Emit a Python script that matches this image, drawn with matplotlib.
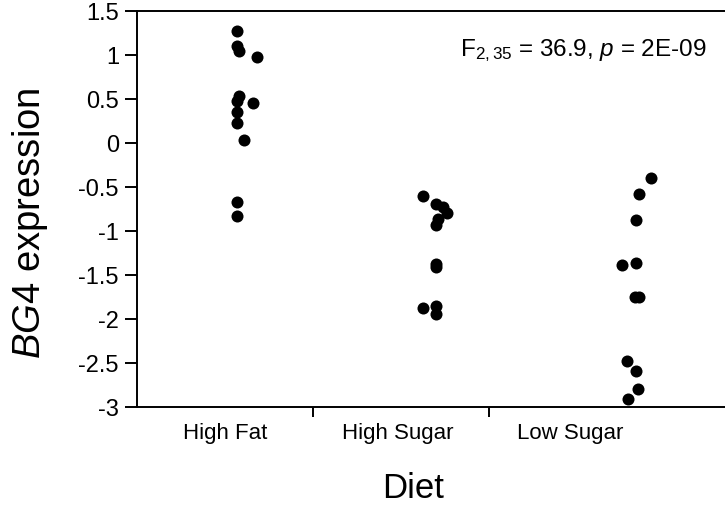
import matplotlib.pyplot as plt

plt.rcParams['font.family'] = ['Liberation Sans', 'DejaVu Sans']
plt.rcParams['mathtext.fontset'] = 'custom'
plt.rcParams['mathtext.rm'] = 'Liberation Sans'
plt.rcParams['mathtext.it'] = 'Liberation Sans:italic'

# BG4 expression per diet group (x_off = horizontal jitter within group)
diets = ['High Fat', 'High Sugar', 'Low Sugar']
high_fat = [1.27, 1.10, 1.05, 0.98, 0.53, 0.48, 0.45, 0.35, 0.23, 0.03, -0.67, -0.83]
high_fat_x = [0.07, 0.07, 0.08, 0.18, 0.08, 0.07, 0.16, 0.07, 0.07, 0.11, 0.07, 0.07]
high_sugar = [-0.60, -0.69, -0.73, -0.79, -0.86, -0.93, -1.37, -1.41, -1.85, -1.88, -1.94]
high_sugar_x = [0.125, 0.2, 0.24, 0.26, 0.21, 0.2, 0.2, 0.2, 0.2, 0.125, 0.2]
low_sugar = [-0.40, -0.58, -0.88, -1.36, -1.39, -1.75, -1.75, -2.48, -2.59, -2.79, -2.91]
low_sugar_x = [0.42, 0.35, 0.335, 0.335, 0.255, 0.33, 0.35, 0.285, 0.335, 0.345, 0.29]

groups = [(high_fat, high_fat_x), (high_sugar, high_sugar_x), (low_sugar, low_sugar_x)]

fig = plt.figure(figsize=(7.25, 5.1), dpi=100)
ax = fig.add_axes([0.189, 0.2, 0.811, 0.7765])

for i, (vals, offs) in enumerate(groups):
    ax.scatter([i + o for o in offs], vals, s=75, color='black', linewidths=0, zorder=3)

ax.set_xlim(-0.5, 2.84)
ax.set_ylim(-3, 1.5)
ax.set_yticks([1.5, 1, 0.5, 0, -0.5, -1, -1.5, -2, -2.5, -3])
ax.set_yticklabels(['1.5', '1', '0.5', '0', '-0.5', '-1', '-1.5', '-2', '-2.5', '-3'])
ax.set_xticks([0, 0.98, 1.96])
ax.set_xticklabels(diets)
ax.set_xticks([0.5, 1.5], minor=True)

ax.spines['right'].set_visible(False)
for s in ['left', 'top', 'bottom']:
    ax.spines[s].set_linewidth(1.4)

ax.tick_params(axis='y', direction='out', length=9, width=1.4, pad=4, labelsize=17)
ax.tick_params(axis='x', which='major', length=0, pad=11, labelsize=16)
ax.tick_params(axis='x', which='minor', direction='out', length=7, width=1.4)

ax.set_ylabel(r'$\mathit{BG4}$ expression', fontsize=27.5)
ax.yaxis.set_label_coords(-0.148, 0.467)
ax.set_xlabel('Diet', fontsize=25, labelpad=20, x=0.469)

ax.text(0.969, 0.889, r'F$_{2,35}$ = 36.9, $\mathit{p}$ = 2E-09', transform=ax.transAxes,
        ha='right', va='baseline', fontsize=17.5)

plt.savefig('out.png', dpi=100)
